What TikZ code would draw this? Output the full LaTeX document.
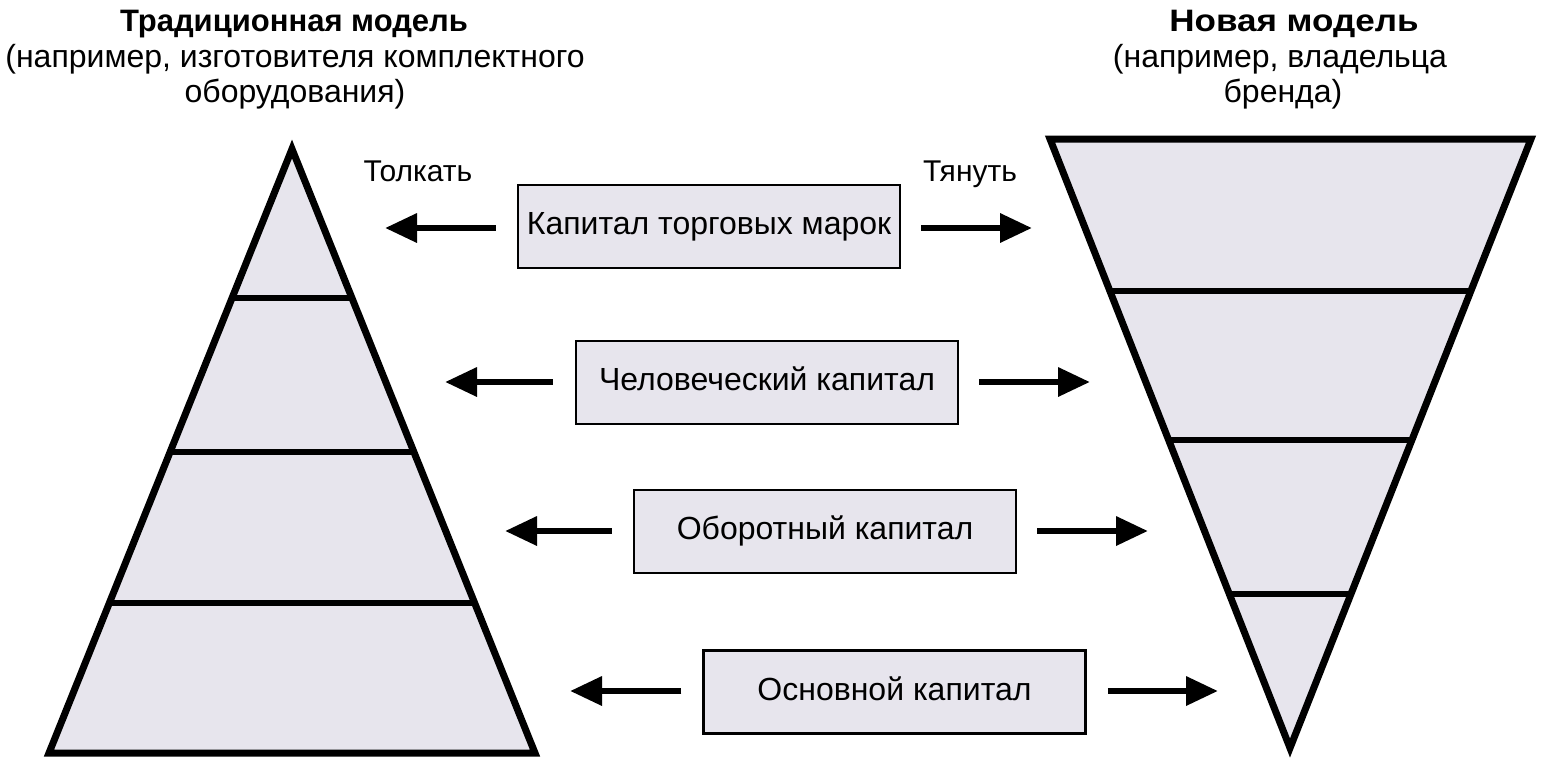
\documentclass[tikz,border=0pt]{standalone}
\usepackage{fontspec}
\setmainfont{Liberation Sans}
\newfontfamily\widefont[FakeStretch=1.13]{Liberation Sans}
\usetikzlibrary{arrows.meta,calc}
\definecolor{fillc}{RGB}{231,229,237}
\begin{document}
\begin{tikzpicture}[x=1pt,y=-1pt,
  txt/.style={font=\fontsize{32}{35}\selectfont, inner sep=0pt, anchor=base},
  ttl/.style={font=\fontsize{31}{35}\selectfont\bfseries, inner sep=0pt, anchor=base},
  lbl/.style={font=\fontsize{30}{35}\selectfont, inner sep=0pt, anchor=base},
  box/.style={font=\fontsize{32}{35}\selectfont, inner sep=0pt, text height=23pt, text depth=7pt,
    draw=black, line width=2.5pt, fill=fillc, minimum width=382pt, minimum height=83pt},
  arr/.style={line width=6.5pt, -{Triangle[length=32pt,width=28pt]}},
  tri/.style={draw=black, fill=fillc, line width=7pt, line join=miter},
  div/.style={line width=6.5pt},
]
\useasboundingbox (0,0) rectangle (1543,764);
% left pyramid
\coordinate (la) at (292,149);
\coordinate (lbl) at (49,753);
\coordinate (lbr) at (535,753);
\draw[tri] (la) -- (lbl) -- (lbr) -- cycle;
\foreach \t in {0.2467,0.5017,0.7517}
  \draw[div] ($(la)!\t!(lbl)$) -- ($(la)!\t!(lbr)$);
% right inverted pyramid
\coordinate (rtl) at (1050,139);
\coordinate (rtr) at (1531,139);
\coordinate (ra) at (1290,748);
\draw[tri] (rtl) -- (rtr) -- (ra) -- cycle;
\foreach \t in {0.2496,0.4943,0.7471}
  \draw[div] ($(rtl)!\t!(ra)$) -- ($(rtr)!\t!(ra)$);
% titles
\node[ttl] (lt) at (294,31) {Традиционная модель};
\node[txt] (ls1) at (295,67) {(например, изготовителя комплектного};
\node[txt] (ls2) at (295,102) {оборудования)};
\node[ttl, font=\fontsize{31}{35}\selectfont\widefont\bfseries] (rt) at (1294,31) {Новая модель};
\node[txt] (rs1) at (1280,67) {(например, владельца};
\node[txt] (rs2) at (1283,102) {бренда)};
% labels
\node[lbl] (push) at (418,181) {Толкать};
\node[lbl] (pull) at (970,181) {Тянуть};
% boxes
\node[box] (b1) at (709,226.5) {Капитал торговых марок};
\node[box] (b2) at (767,382.5) {Человеческий капитал};
\node[box] (b3) at (825,531.5) {Оборотный капитал};
\node[box] (b4) at (894.5,692) {Основной капитал};
% arrow tips
\coordinate (l1) at (385,228);
\coordinate (r1) at (1032,228);
\coordinate (l2) at (445,382);
\coordinate (r2) at (1090,382);
\coordinate (l3) at (505,531);
\coordinate (r3) at (1148,531);
\coordinate (l4) at (570,691);
\coordinate (r4) at (1218,691);
\draw[arr] ([xshift=-21pt]b1.west |- l1) -- (l1);
\draw[arr] ([xshift=20pt]b1.east |- r1) -- (r1);
\draw[arr] ([xshift=-22pt]b2.west |- l2) -- (l2);
\draw[arr] ([xshift=20pt]b2.east |- r2) -- (r2);
\draw[arr] ([xshift=-21pt]b3.west |- l3) -- (l3);
\draw[arr] ([xshift=20pt]b3.east |- r3) -- (r3);
\draw[arr] ([xshift=-21pt]b4.west |- l4) -- (l4);
\draw[arr] ([xshift=21pt]b4.east |- r4) -- (r4);
\end{tikzpicture}
\end{document}
